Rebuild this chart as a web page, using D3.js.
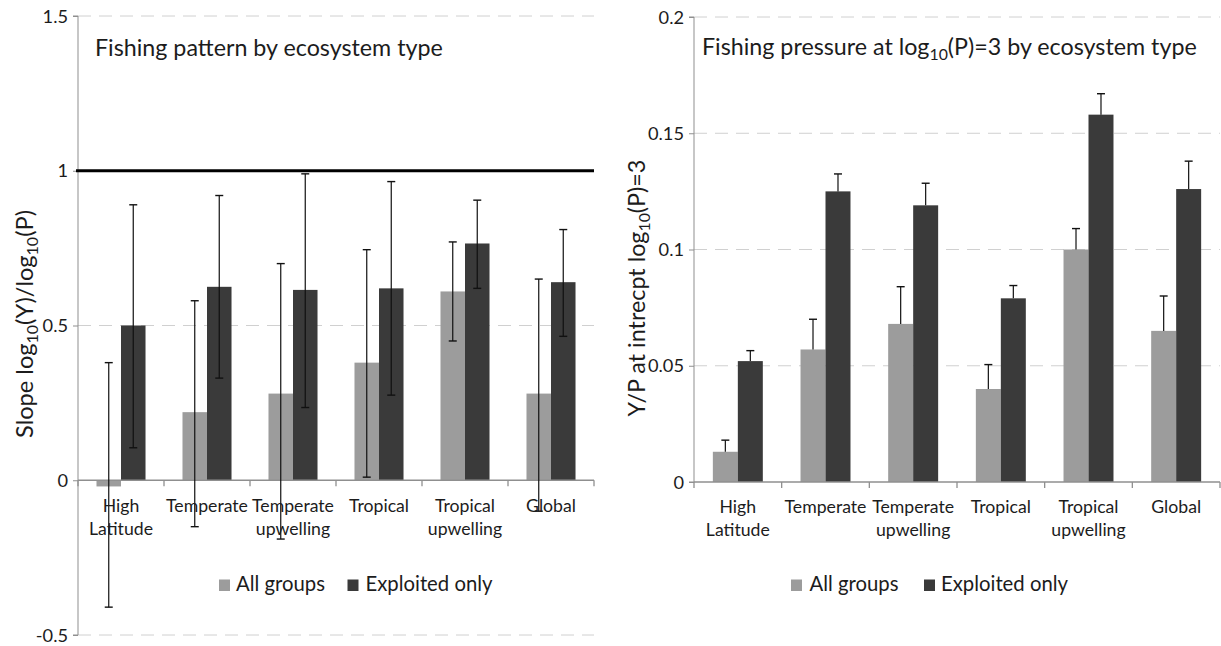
<!DOCTYPE html>
<html><head><meta charset="utf-8">
<script src="https://cdn.jsdelivr.net/npm/d3@7"></script>
<style>html,body{margin:0;padding:0;background:#fff;} svg{display:block;}</style>
</head><body><svg id="c" width="1221" height="646"></svg>
<script>
// ---------------- DATA ----------------
const categories = ["High Latitude","Temperate","Temperate upwelling","Tropical","Tropical upwelling","Global"];
const seriesNames = ["All groups","Exploited only"];

// Left panel: slope log10(Y)/log10(P)
const slopeAll      = [-0.02, 0.22, 0.28, 0.38, 0.61, 0.28];
const slopeAllLow   = [-0.41, -0.15, -0.19, 0.01, 0.45, -0.10];
const slopeAllHigh  = [0.38, 0.58, 0.70, 0.745, 0.77, 0.65];
const slopeExp      = [0.50, 0.625, 0.615, 0.62, 0.765, 0.64];
const slopeExpLow   = [0.105, 0.33, 0.235, 0.275, 0.62, 0.465];
const slopeExpHigh  = [0.89, 0.92, 0.99, 0.965, 0.905, 0.81];
const slopeTicks      = [-0.5, 0, 0.5, 1, 1.5];
const slopeTickLabels = ["-0.5","0","0.5","1","1.5"];
const slopeRefLine    = 1;

// Right panel: Y/P at intercept log10(P)=3
const ypAll      = [0.013, 0.057, 0.068, 0.040, 0.100, 0.065];
const ypAllHigh  = [0.018, 0.070, 0.084, 0.0505, 0.109, 0.080];
const ypExp      = [0.052, 0.125, 0.119, 0.079, 0.158, 0.126];
const ypExpHigh  = [0.0565, 0.1325, 0.1285, 0.0845, 0.167, 0.138];
const ypTicks      = [0, 0.05, 0.1, 0.15, 0.2];
const ypTickLabels = ["0","0.05","0.1","0.15","0.2"];

// ---------------- STYLE ----------------
const FONT = "Lato, 'Open Sans', sans-serif";
const GREY = "#9c9c9c", DARK = "#3a3a3a", AXIS = "#8f8f8f", GRID = "#d0d0d0", TXT = "#1c1c1c";
const svg = d3.select("#c");

function measure(builder, size) {
  const t = svg.append("text").attr("font-family", FONT).attr("font-size", size);
  builder(t);
  const w = t.node().getComputedTextLength();
  t.remove();
  return w;
}
function fit(builder, target) { return 100 * target / measure(builder, 100); }
function plain(s) { return t => t.text(s); }
function withSubs(parts) {
  return t => {
    let prevSub = false;
    parts.forEach(p => {
      const isSub = p.startsWith("_");
      const s = isSub ? p.slice(1) : p;
      const ts = t.append("tspan").text(s);
      if (isSub) ts.attr("font-size", "0.68em").attr("dy", "0.32em");
      else if (prevSub) ts.attr("dy", "-0.2176em");
      prevSub = isSub;
    });
  };
}

const tickSize = fit(plain("0.15"), 36);
const catSize = fit(plain("Temperate"), 82);
const legSize = fit(plain("Exploited only"), 127);

function drawChart(cfg) {
  const g = svg.append("g");
  const x0 = d3.scaleBand().domain(categories).range([cfg.x0, cfg.x1]).paddingInner(0.43).paddingOuter(0.215);
  const x1 = d3.scaleBand().domain(seriesNames).range([0, x0.bandwidth()]);
  const y = d3.scaleLinear().domain(cfg.domain).range([cfg.yBot, cfg.yTop]);
  const step = x0.step();

  // gridlines
  g.selectAll("line.grid").data(cfg.ticks.filter(v => v !== 0 && v !== cfg.ref)).enter().append("line")
    .attr("x1", cfg.x0).attr("x2", cfg.x1).attr("y1", d => y(d)).attr("y2", d => y(d))
    .attr("stroke", GRID).attr("stroke-width", 1).attr("stroke-dasharray", "13,8");

  // y axis
  const yAxis = d3.axisLeft(y).tickValues(cfg.ticks).tickSize(5).tickFormat("");
  const ya = g.append("g").attr("transform", `translate(${cfg.x0},0)`).call(yAxis);
  ya.selectAll("path,line").attr("stroke", AXIS);
  ya.select("path").attr("d", `M-5,${cfg.yTop}H0V${cfg.yBot}H-5`);
  g.selectAll("text.yt").data(cfg.ticks).enter().append("text")
    .attr("x", cfg.x0 - 10).attr("y", d => y(d)).attr("dy", "0.36em")
    .attr("text-anchor", "end").attr("font-family", FONT).attr("font-size", tickSize).attr("fill", TXT)
    .text((d, i) => cfg.tickLabels[i]);

  // bars
  const groups = g.selectAll("g.cat").data(categories).enter().append("g")
    .attr("transform", d => `translate(${x0(d)},0)`);
  const seriesVals = [cfg.all, cfg.exp];
  const seriesCols = [GREY, DARK];
  seriesNames.forEach((s, si) => {
    groups.append("rect")
      .attr("x", x1(s)).attr("width", x1.bandwidth())
      .attr("y", (d, i) => Math.min(y(seriesVals[si][i]), y(0)))
      .attr("height", (d, i) => Math.abs(y(seriesVals[si][i]) - y(0)))
      .attr("fill", seriesCols[si]);
  });

  // x axis line + ticks at category boundaries
  const yz = y(0);
  g.append("line").attr("x1", cfg.x0).attr("x2", cfg.x1).attr("y1", yz).attr("y2", yz).attr("stroke", AXIS).attr("stroke-width", 1.3);
  const bounds = d3.range(categories.length + 1).map(i => cfg.x0 + i * step);
  g.selectAll("line.xt").data(bounds).enter().append("line")
    .attr("x1", d => d).attr("x2", d => d).attr("y1", yz).attr("y2", yz + 6).attr("stroke", AXIS).attr("stroke-width", 1.3);

  // reference line
  if (cfg.ref !== undefined) {
    g.append("line").attr("x1", cfg.x0 - 2).attr("x2", cfg.x1).attr("y1", y(cfg.ref)).attr("y2", y(cfg.ref))
      .attr("stroke", "#000").attr("stroke-width", 3);
  }

  // error bars
  const errSets = [[cfg.allLow, cfg.allHigh], [cfg.expLow, cfg.expHigh]];
  seriesNames.forEach((s, si) => {
    const [lo, hi] = errSets[si];
    groups.each(function (d, i) {
      const cx = x0(d) + x1(s) + x1.bandwidth() / 2;
      const gg = d3.select(this.parentNode);
      const top = y(hi[i]);
      const bot = lo ? y(lo[i]) : y(seriesVals[si][i]);
      gg.append("line").attr("x1", cx).attr("x2", cx).attr("y1", top).attr("y2", bot).attr("stroke", "#111").attr("stroke-width", 1.2);
      gg.append("line").attr("x1", cx - 4).attr("x2", cx + 4).attr("y1", top).attr("y2", top).attr("stroke", "#111").attr("stroke-width", 1.4);
      if (lo) gg.append("line").attr("x1", cx - 4).attr("x2", cx + 4).attr("y1", bot).attr("y2", bot).attr("stroke", "#111").attr("stroke-width", 1.4);
    });
  });

  // category labels
  categories.forEach(c => {
    const words = c.split(" ");
    const cx = x0(c) + x0.bandwidth() / 2;
    words.forEach((w, wi) => {
      g.append("text").attr("x", cx).attr("y", cfg.catY + wi * 23).attr("text-anchor", "middle")
        .attr("font-family", FONT).attr("font-size", catSize).attr("fill", TXT).text(w);
    });
  });

  // title
  const tSize = fit(cfg.title, cfg.titleW);
  const tt = g.append("text").attr("x", cfg.titleX).attr("y", cfg.titleY).attr("font-family", FONT)
    .attr("font-size", tSize).attr("fill", TXT);
  cfg.title(tt);

  // y label
  const lSize = fit(cfg.ylabel, cfg.ylabelW);
  const yl = g.append("text").attr("transform", `translate(${cfg.ylabelX},${cfg.ylabelY}) rotate(-90)`)
    .attr("text-anchor", "middle").attr("dy", "0.35em").attr("font-family", FONT).attr("font-size", lSize).attr("fill", TXT);
  cfg.ylabel(yl);

  // legend
  seriesNames.forEach((s, si) => {
    g.append("rect").attr("x", cfg.legend[si][0]).attr("y", cfg.legendY - 11.5).attr("width", 11).attr("height", 11.5).attr("fill", seriesCols[si]);
    g.append("text").attr("x", cfg.legend[si][1]).attr("y", cfg.legendY).attr("font-family", FONT)
      .attr("font-size", legSize).attr("fill", TXT).text(s);
  });
}

drawChart({
  x0: 78, x1: 594, yTop: 16, yBot: 635, domain: [-0.5, 1.5],
  ticks: slopeTicks, tickLabels: slopeTickLabels, ref: slopeRefLine,
  all: slopeAll, allLow: slopeAllLow, allHigh: slopeAllHigh,
  exp: slopeExp, expLow: slopeExpLow, expHigh: slopeExpHigh,
  catY: 512,
  title: plain("Fishing pattern by ecosystem type"), titleX: 95, titleY: 56, titleW: 348,
  ylabel: withSubs(["Slope log", "_10", "(Y)/log", "_10", "(P)"]), ylabelX: 25, ylabelY: 324, ylabelW: 228,
  legend: [[219, 236], [347.5, 365.5]], legendY: 591
});

drawChart({
  x0: 694, x1: 1220, yTop: 17, yBot: 482, domain: [0, 0.2],
  ticks: ypTicks, tickLabels: ypTickLabels,
  all: ypAll, allLow: null, allHigh: ypAllHigh,
  exp: ypExp, expLow: null, expHigh: ypExpHigh,
  catY: 513,
  title: withSubs(["Fishing pressure at log", "_10", "(P)=3 by ecosystem type"]), titleX: 702, titleY: 55, titleW: 495,
  ylabel: withSubs(["Y/P at intrecpt log", "_10", "(P)=3"]), ylabelX: 637, ylabelY: 288, ylabelW: 257,
  legend: [[791, 809.5], [924, 941]], legendY: 591
});
</script>
</body></html>
